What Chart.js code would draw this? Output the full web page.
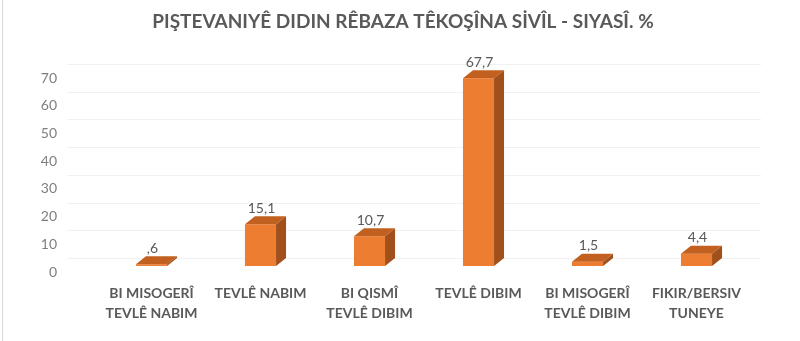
<!DOCTYPE html>
<html>
<head>
<meta charset="utf-8">
<script src="https://cdn.jsdelivr.net/npm/chart.js@4/dist/chart.umd.min.js"></script>
<style>
  html, body { margin: 0; padding: 0; background: #fff; }
  #wrap { width: 800px; height: 341px; position: relative; }
</style>
</head>
<body>
<div id="wrap"><canvas id="chart" width="800" height="341"></canvas></div>
<script>
const titleText = 'PIŞTEVANIYÊ DIDIN RÊBAZA TÊKOŞÎNA SİVÎL - SIYASÎ. %';
const categories = [
  ['BI MISOGERÎ', 'TEVLÊ NABIM'],
  'TEVLÊ NABIM',
  ['BI QISMÎ', 'TEVLÊ DIBIM'],
  'TEVLÊ DIBIM',
  ['BI MISOGERÎ', 'TEVLÊ DIBIM'],
  ['FIKIR/BERSIV', 'TUNEYE']
];
const percentValues = [0.6, 15.1, 10.7, 67.7, 1.5, 4.4];
const yTicks = [0, 10, 20, 30, 40, 50, 60, 70];

// depth of the fake 3d boxes
const depthX = 10, depthY = 8;

function fmt(v) {
  return v.toFixed(1).replace('.', ',').replace(/^0,/, ',');
}

const box3d = {
  id: 'box3d',
  beforeDatasetsDraw(chart) {
    const ctx = chart.ctx, area = chart.chartArea, y = chart.scales.y;
    ctx.save();
    // frame line on the left
    ctx.strokeStyle = '#d9d9d9';
    ctx.lineWidth = 1;
    ctx.beginPath();
    ctx.moveTo(2.5, 0);
    ctx.lineTo(2.5, chart.height);
    ctx.stroke();
    // title, centred like the original (not on the canvas centre)
    ctx.fillStyle = '#595959';
    ctx.font = 'bold 19px Lato';
    ctx.textAlign = 'center';
    ctx.textBaseline = 'middle';
    ctx.fillText(titleText, 403, 22);
    // back wall grid
    ctx.strokeStyle = '#f1f1f1';
    yTicks.forEach(t => {
      const py = Math.round(y.getPixelForValue(t) - depthY) + 0.5;
      ctx.beginPath();
      ctx.moveTo(67, py);
      ctx.lineTo(area.right + depthX, py);
      ctx.stroke();
    });
    ctx.restore();
  },
  afterDatasetsDraw(chart) {
    const ctx = chart.ctx;
    const meta = chart.getDatasetMeta(0);
    ctx.save();
    meta.data.forEach((bar, i) => {
      const p = bar.getProps(['x', 'y', 'base', 'width'], true);
      const l = p.x - p.width / 2, r = p.x + p.width / 2;
      // top face
      ctx.fillStyle = '#c2611f';
      ctx.beginPath();
      ctx.moveTo(l, p.y);
      ctx.lineTo(r, p.y);
      ctx.lineTo(r + depthX, p.y - depthY);
      ctx.lineTo(l + depthX, p.y - depthY);
      ctx.closePath();
      ctx.fill();
      // side face
      ctx.fillStyle = '#a2501b';
      ctx.beginPath();
      ctx.moveTo(r, p.y);
      ctx.lineTo(r + depthX, p.y - depthY);
      ctx.lineTo(r + depthX, p.base - depthY);
      ctx.lineTo(r, p.base);
      ctx.closePath();
      ctx.fill();
      // value label
      ctx.fillStyle = '#595959';
      ctx.font = '14px Lato';
      ctx.textAlign = 'center';
      ctx.textBaseline = 'middle';
      ctx.fillText(fmt(percentValues[i]), p.x + 1, p.y - depthY - 8);
    });
    ctx.restore();
  }
};

new Chart(document.getElementById('chart'), {
  type: 'bar',
  data: {
    labels: categories,
    datasets: [{
      data: percentValues,
      backgroundColor: '#ed7d31',
      borderWidth: 0,
      barPercentage: 0.285,
      categoryPercentage: 1
    }]
  },
  options: {
    responsive: false,
    animation: false,
    layout: { padding: { top: 72, right: 49, bottom: 0, left: 0 } },
    plugins: {
      legend: { display: false },
      tooltip: { enabled: false },
      title: { display: false }
    },
    scales: {
      x: {
        grid: { display: false, drawTicks: false },
        border: { display: false },
        ticks: {
          color: '#595959',
          font: { family: 'Lato', size: 14, weight: 'bold', lineHeight: 1.45 },
          padding: 17,
          maxRotation: 0,
          autoSkip: false
        },
        afterFit(scale) { scale.height = 75; }
      },
      y: {
        min: 0,
        max: 70,
        grid: { display: false, drawTicks: false },
        border: { display: false },
        ticks: {
          stepSize: 10,
          color: '#7f7f7f',
          font: { family: 'Lato', size: 14 },
          padding: 40,
          labelOffset: 6
        },
        afterFit(scale) { scale.width = 97; }
      }
    }
  },
  plugins: [box3d]
});
</script>
</body>
</html>
